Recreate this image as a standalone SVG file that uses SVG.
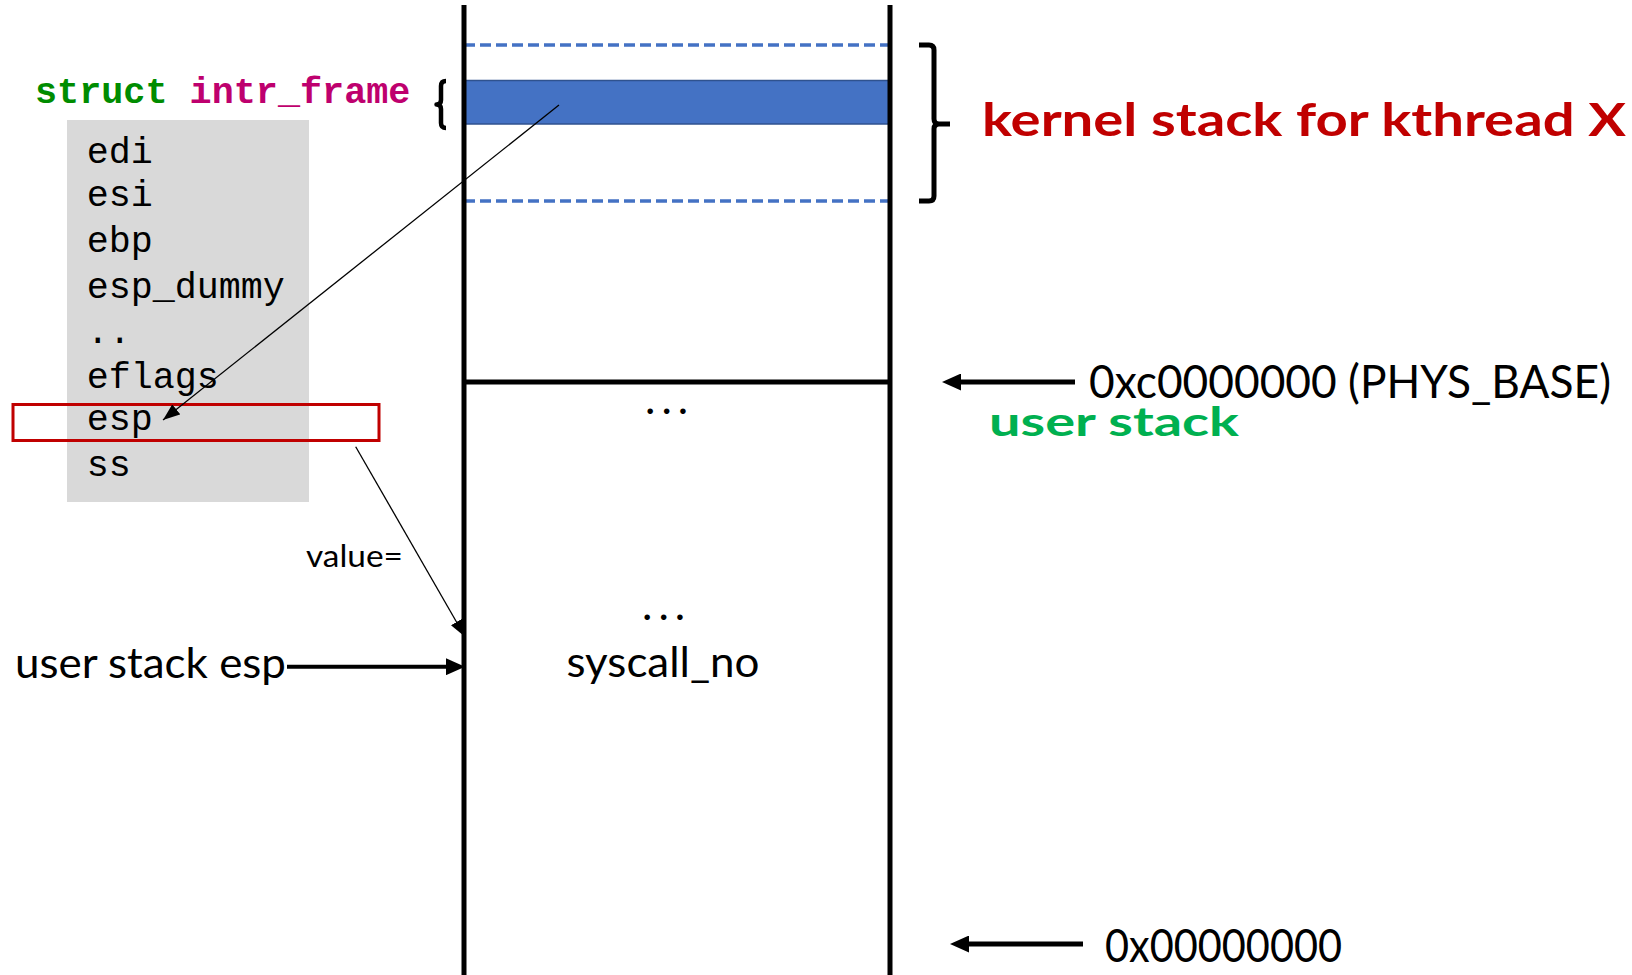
<svg xmlns="http://www.w3.org/2000/svg" width="1632" height="975" viewBox="0 0 1632 975">
<style>
.mono{font-family:"Liberation Mono","DejaVu Sans Mono",monospace}
.sans{font-family:Lato,"Open Sans","Noto Sans",sans-serif}
.reg{font-size:36.7px;fill:#000}
.thick{stroke:#000;stroke-width:5;fill:none}
.thin{stroke:#000;stroke-width:1.3;fill:none}
.dash{stroke:#4472C4;stroke-width:3.5;stroke-dasharray:11 5;fill:none}
.brace{stroke:#000;fill:none;stroke-linecap:butt;stroke-linejoin:round}
</style>
<defs>
<marker id="headThick" markerUnits="userSpaceOnUse" markerWidth="19" markerHeight="17" refX="9" refY="8.5" orient="auto">
<path d="M0,0 L19,8.5 L0,17 z" fill="#000"/>
</marker>
<marker id="headThin" markerUnits="userSpaceOnUse" markerWidth="17" markerHeight="13" refX="17" refY="6.5" orient="auto">
<path d="M0,0 L17,6.5 L0,13 z" fill="#000"/>
</marker>
</defs>
<rect width="1632" height="975" fill="#fff"/>

<g id="stack">
<line x1="464" y1="45" x2="890" y2="45" class="dash"/>
<line x1="464" y1="201" x2="890" y2="201" class="dash"/>
<rect x="464" y="80.5" width="426" height="43.5" fill="#4472C4" stroke="#2F528F" stroke-width="1.5"/>
<line x1="464" y1="382" x2="890" y2="382" class="thick"/>
<line x1="464" y1="5" x2="464" y2="975" class="thick"/>
<line x1="890" y1="5" x2="890" y2="975" class="thick"/>
<text x="645" y="414" class="sans" font-size="44" letter-spacing="6">...</text>
<text x="642" y="620" class="sans" font-size="44" letter-spacing="6">...</text>
<text x="663" y="677" class="sans" font-size="43" text-anchor="middle" textLength="193" lengthAdjust="spacingAndGlyphs">syscall_no</text>
</g>

<g id="intr_frame">
<text x="35" y="102.7" class="mono" font-size="36.8" font-weight="bold"><tspan fill="#008C00">struct</tspan> <tspan fill="#BE006E">intr_frame</tspan></text>
<path class="brace" stroke-width="4.5" d="M446,81 Q441,81 441,86 L441,100 Q441,104.5 436.5,104.5 Q441,104.5 441,109 L441,123 Q441,128 446,128"/>
<rect x="67" y="120" width="242" height="382" fill="#D9D9D9"/>
<text class="mono reg" x="86.7" y="163.3">edi</text>
<text class="mono reg" x="86.7" y="206">esi</text>
<text class="mono reg" x="86.7" y="251.7">ebp</text>
<text class="mono reg" x="86.7" y="298.3">esp_dummy</text>
<text class="mono reg" x="86.7" y="342.7">..</text>
<text class="mono reg" x="86.7" y="388.3">eflags</text>
<text class="mono reg" x="86.7" y="430">esp</text>
<text class="mono reg" x="86.7" y="476">ss</text>
<rect x="13" y="404.5" width="366" height="36" fill="none" stroke="#C00000" stroke-width="3"/>
</g>

<g id="kernel_label">
<path class="brace" stroke-width="5" d="M919,45 L929,45 Q934,45 934,50 L934,119 Q934,124 939,124 L950,124 M939,124 Q934,124 934,129 L934,196 Q934,201 929,201 L919,201"/>
<text x="982" y="136" class="sans" font-size="46" font-weight="bold" fill="#C00000" textLength="644" lengthAdjust="spacingAndGlyphs">kernel stack for kthread X</text>
</g>

<g id="phys_base">
<text x="1089" y="398" class="sans" font-size="46" textLength="522" lengthAdjust="spacingAndGlyphs">0xc0000000 (PHYS_BASE)</text>
<text x="989" y="436" class="sans" font-size="41" font-weight="bold" fill="#00B050" textLength="250" lengthAdjust="spacingAndGlyphs">user stack</text>
</g>

<g id="zero_addr">
<text x="1105" y="961.7" class="sans" font-size="47" textLength="237" lengthAdjust="spacingAndGlyphs">0x00000000</text>
</g>

<g id="user_esp">
<text x="15" y="677.5" class="sans" font-size="42" textLength="271" lengthAdjust="spacingAndGlyphs">user stack esp</text>
<text x="306" y="566.7" class="sans" font-size="30" textLength="97" lengthAdjust="spacingAndGlyphs">value=</text>
</g>

<g id="connectors">
<line x1="559" y1="105" x2="163" y2="420" class="thin" marker-end="url(#headThin)"/>
<line x1="355.7" y1="446.7" x2="465" y2="636.7" class="thin" marker-end="url(#headThin)"/>
<line x1="287" y1="666.7" x2="455" y2="666.7" stroke="#000" stroke-width="4" marker-end="url(#headThick)"/>
<line x1="1075" y1="382" x2="952" y2="382" stroke="#000" stroke-width="5" marker-end="url(#headThick)"/>
<line x1="1083" y1="944" x2="960" y2="944" stroke="#000" stroke-width="5" marker-end="url(#headThick)"/>
</g>
</svg>
